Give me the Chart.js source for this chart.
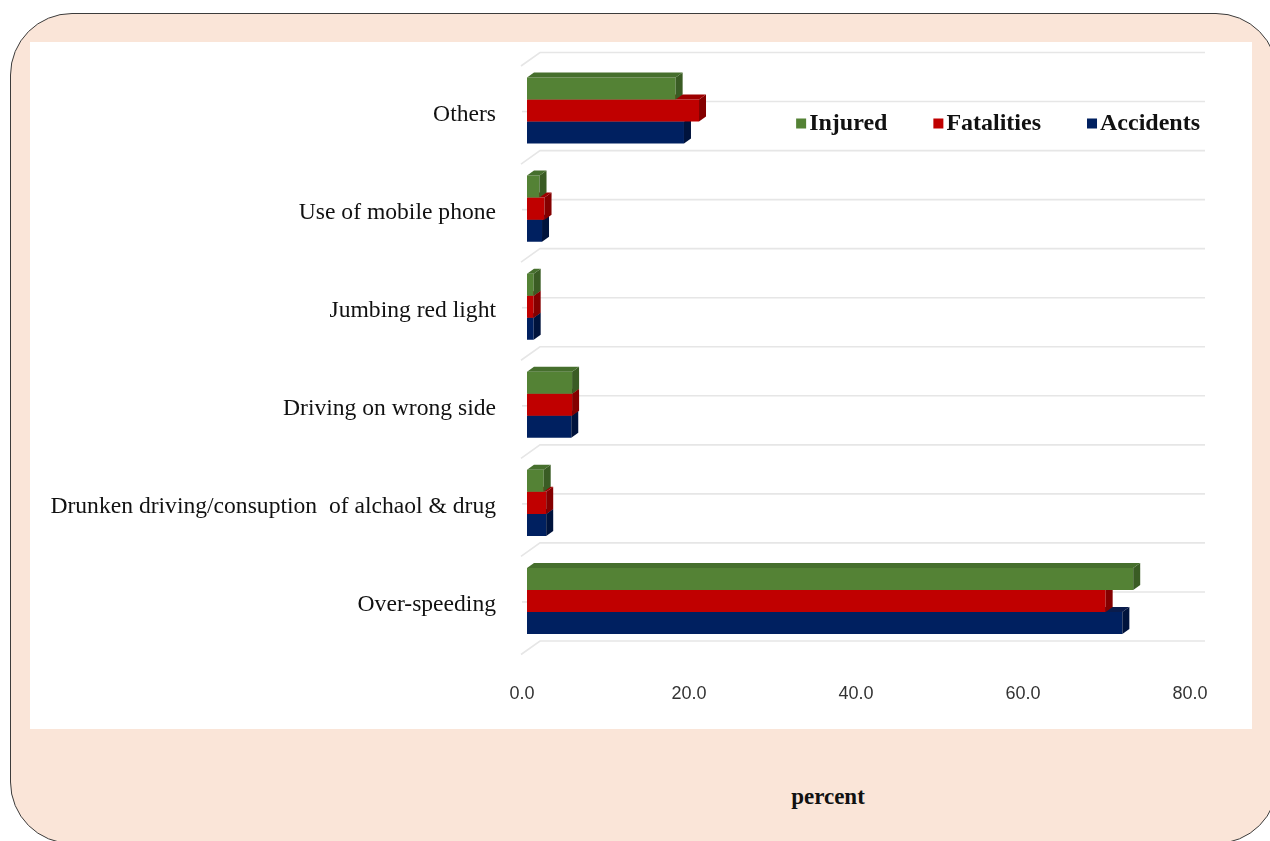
<!DOCTYPE html>
<html>
<head>
<meta charset="utf-8">
<script src="https://cdn.jsdelivr.net/npm/chart.js@4.4.1/dist/chart.umd.min.js"></script>
<style>
  html, body { margin: 0; padding: 0; width: 1270px; height: 841px; overflow: hidden; background: #fff; }
  #frame {
    position: absolute; left: 10px; top: 13px; width: 1268px; height: 831px;
    box-sizing: border-box; border: 1.5px solid #3c3c3c; border-radius: 62px;
    background: #fae5d8;
  }
  #panel { position: absolute; left: 30px; top: 42px; width: 1222px; height: 687px; background: #fff; }
  #panel canvas { position: absolute; left: 0; top: 0; }
  #xtitle {
    position: absolute; left: 728px; width: 200px; top: 784px; text-align: center;
    font: bold 23px "Liberation Serif", "Times New Roman", serif; color: #111;
  }
</style>
</head>
<body>
<div id="frame"></div>
<div id="panel"><canvas id="chart" width="1222" height="687"></canvas></div>
<div id="xtitle">percent</div>
<script>
// categorias (de arriba a abajo)
const categories = [
    "Others",
    "Use of mobile phone",
    "Jumbing red light",
    "Driving on wrong side",
    "Drunken driving/consuption  of alchaol & drug",
    "Over-speeding"
];

// valores (percent)
const injured    = [17.8, 1.5, 0.8, 5.4, 2.0, 72.6];
const fatalities = [20.6, 2.1, 0.8, 5.4, 2.3, 69.3];
const accidents  = [18.8, 1.8, 0.8, 5.3, 2.3, 71.3];

const xTicks = [0, 20, 40, 60, 80];

// colores: cara frontal, lateral y superior
const green = { face: "#548235", side: "#3a5c24", top: "#466f2d" };
const red   = { face: "#c00000", side: "#840000", top: "#9e0000" };
const navy  = { face: "#002060", side: "#00133c", top: "#0a1c4c" };

const DX = 7, DY = 5;
const serif = "'Liberation Serif', 'Times New Roman', serif";

// lineas de fondo (pared trasera 3D)
const backGrid = {
    id: "backGrid",
    beforeDatasetsDraw(chart) {
        const { ctx, chartArea } = chart;
        const ys = chart.scales.y;
        const half = (ys.getPixelForValue(1) - ys.getPixelForValue(0)) / 2;
        ctx.save();
        ctx.strokeStyle = "#e6e6e6";
        ctx.lineWidth = 1.6;
        for (let i = 0; i <= categories.length; i++) {
            const b = ys.getPixelForValue(0) - half + i * 2 * half;
            ctx.beginPath();
            ctx.moveTo(chartArea.left - 6, b + 4.5);
            ctx.lineTo(chartArea.left + 13, b - 9);
            ctx.lineTo(chartArea.right + 10, b - 9);
            ctx.stroke();
        }
        for (let i = 0; i < categories.length; i++) {
            const c = ys.getPixelForValue(i);
            ctx.beginPath();
            ctx.moveTo(chartArea.left + 13, c - 9);
            ctx.lineTo(chartArea.right + 10, c - 9);
            ctx.stroke();
            ctx.beginPath();
            ctx.moveTo(chartArea.left - 5, c + 1);
            ctx.lineTo(chartArea.left, c + 1);
            ctx.stroke();
        }
        ctx.restore();
    }
};

// caras laterales y superiores de las barras
const bars3d = {
    id: "bars3d",
    afterDatasetDraw(chart, args) {
        const { ctx } = chart;
        const ds = chart.data.datasets[args.index];
        ctx.save();
        args.meta.data.forEach(el => {
            const { x, y, base, height } = el.getProps(["x", "y", "base", "height"], true);
            const top = y - height / 2, bottom = y + height / 2;
            ctx.fillStyle = ds.sideColor;
            ctx.beginPath();
            ctx.moveTo(x, top);
            ctx.lineTo(x + DX, top - DY);
            ctx.lineTo(x + DX, bottom - DY);
            ctx.lineTo(x, bottom);
            ctx.closePath();
            ctx.fill();
            ctx.fillStyle = ds.topColor;
            ctx.beginPath();
            ctx.moveTo(base, top);
            ctx.lineTo(base + DX, top - DY);
            ctx.lineTo(x + DX, top - DY);
            ctx.lineTo(x, top);
            ctx.closePath();
            ctx.fill();
        });
        ctx.restore();
    }
};

// leyenda dentro del area, arriba a la derecha
const innerLegend = {
    id: "innerLegend",
    afterDraw(chart) {
        const { ctx, chartArea } = chart;
        ctx.save();
        ctx.font = "bold 24px " + serif;
        ctx.textBaseline = "middle";
        ctx.textAlign = "left";
        const yMid = chartArea.top + 62;
        let xr = chartArea.right + 5;
        const items = chart.data.datasets.slice().reverse();
        items.forEach(ds => {
            const w = ctx.measureText(ds.label).width;
            const tx = xr - w;
            ctx.fillStyle = "#111";
            ctx.fillText(ds.label, tx, yMid);
            ctx.fillStyle = ds.backgroundColor;
            ctx.fillRect(tx - 13, yMid - 5, 10, 10);
            xr = tx - 13 - 46;
        });
        ctx.restore();
    }
};

const ctx = document.getElementById("chart").getContext("2d");

new Chart(ctx, {
    type: "bar",
    data: {
        labels: categories,
        datasets: [
            { label: "Injured", data: injured, backgroundColor: green.face, sideColor: green.side, topColor: green.top },
            { label: "Fatalities", data: fatalities, backgroundColor: red.face, sideColor: red.side, topColor: red.top },
            { label: "Accidents", data: accidents, backgroundColor: navy.face, sideColor: navy.side, topColor: navy.top }
        ]
    },
    options: {
        indexAxis: "y",
        responsive: false,
        animation: false,
        categoryPercentage: 0.673,
        barPercentage: 1.0,
        layout: { padding: { top: 19.5, right: 57, bottom: 0, left: 0 } },
        plugins: {
            tooltip: { enabled: false },
            legend: { display: false }
        },
        scales: {
            x: {
                min: 0,
                max: 80,
                afterFit: s => { s.height = 79; },
                afterBuildTicks: s => { s.ticks = xTicks.map(v => ({ value: v })); },
                grid: { display: false },
                border: { display: false },
                ticks: {
                    padding: 25,
                    labelOffset: -5,
                    color: "#333",
                    font: { family: "'Liberation Sans', Arial, sans-serif", size: 18 },
                    callback: v => Number(v).toFixed(1)
                }
            },
            y: {
                afterFit: s => { s.width = 497; s.paddingTop = 0; s.paddingBottom = 0; },
                grid: { display: false },
                border: { display: false },
                ticks: {
                    padding: 23,
                    labelOffset: 4,
                    color: "#111",
                    font: { family: serif, size: 23.6 }
                }
            }
        }
    },
    plugins: [backGrid, bars3d, innerLegend]
});
</script>
</body>
</html>
